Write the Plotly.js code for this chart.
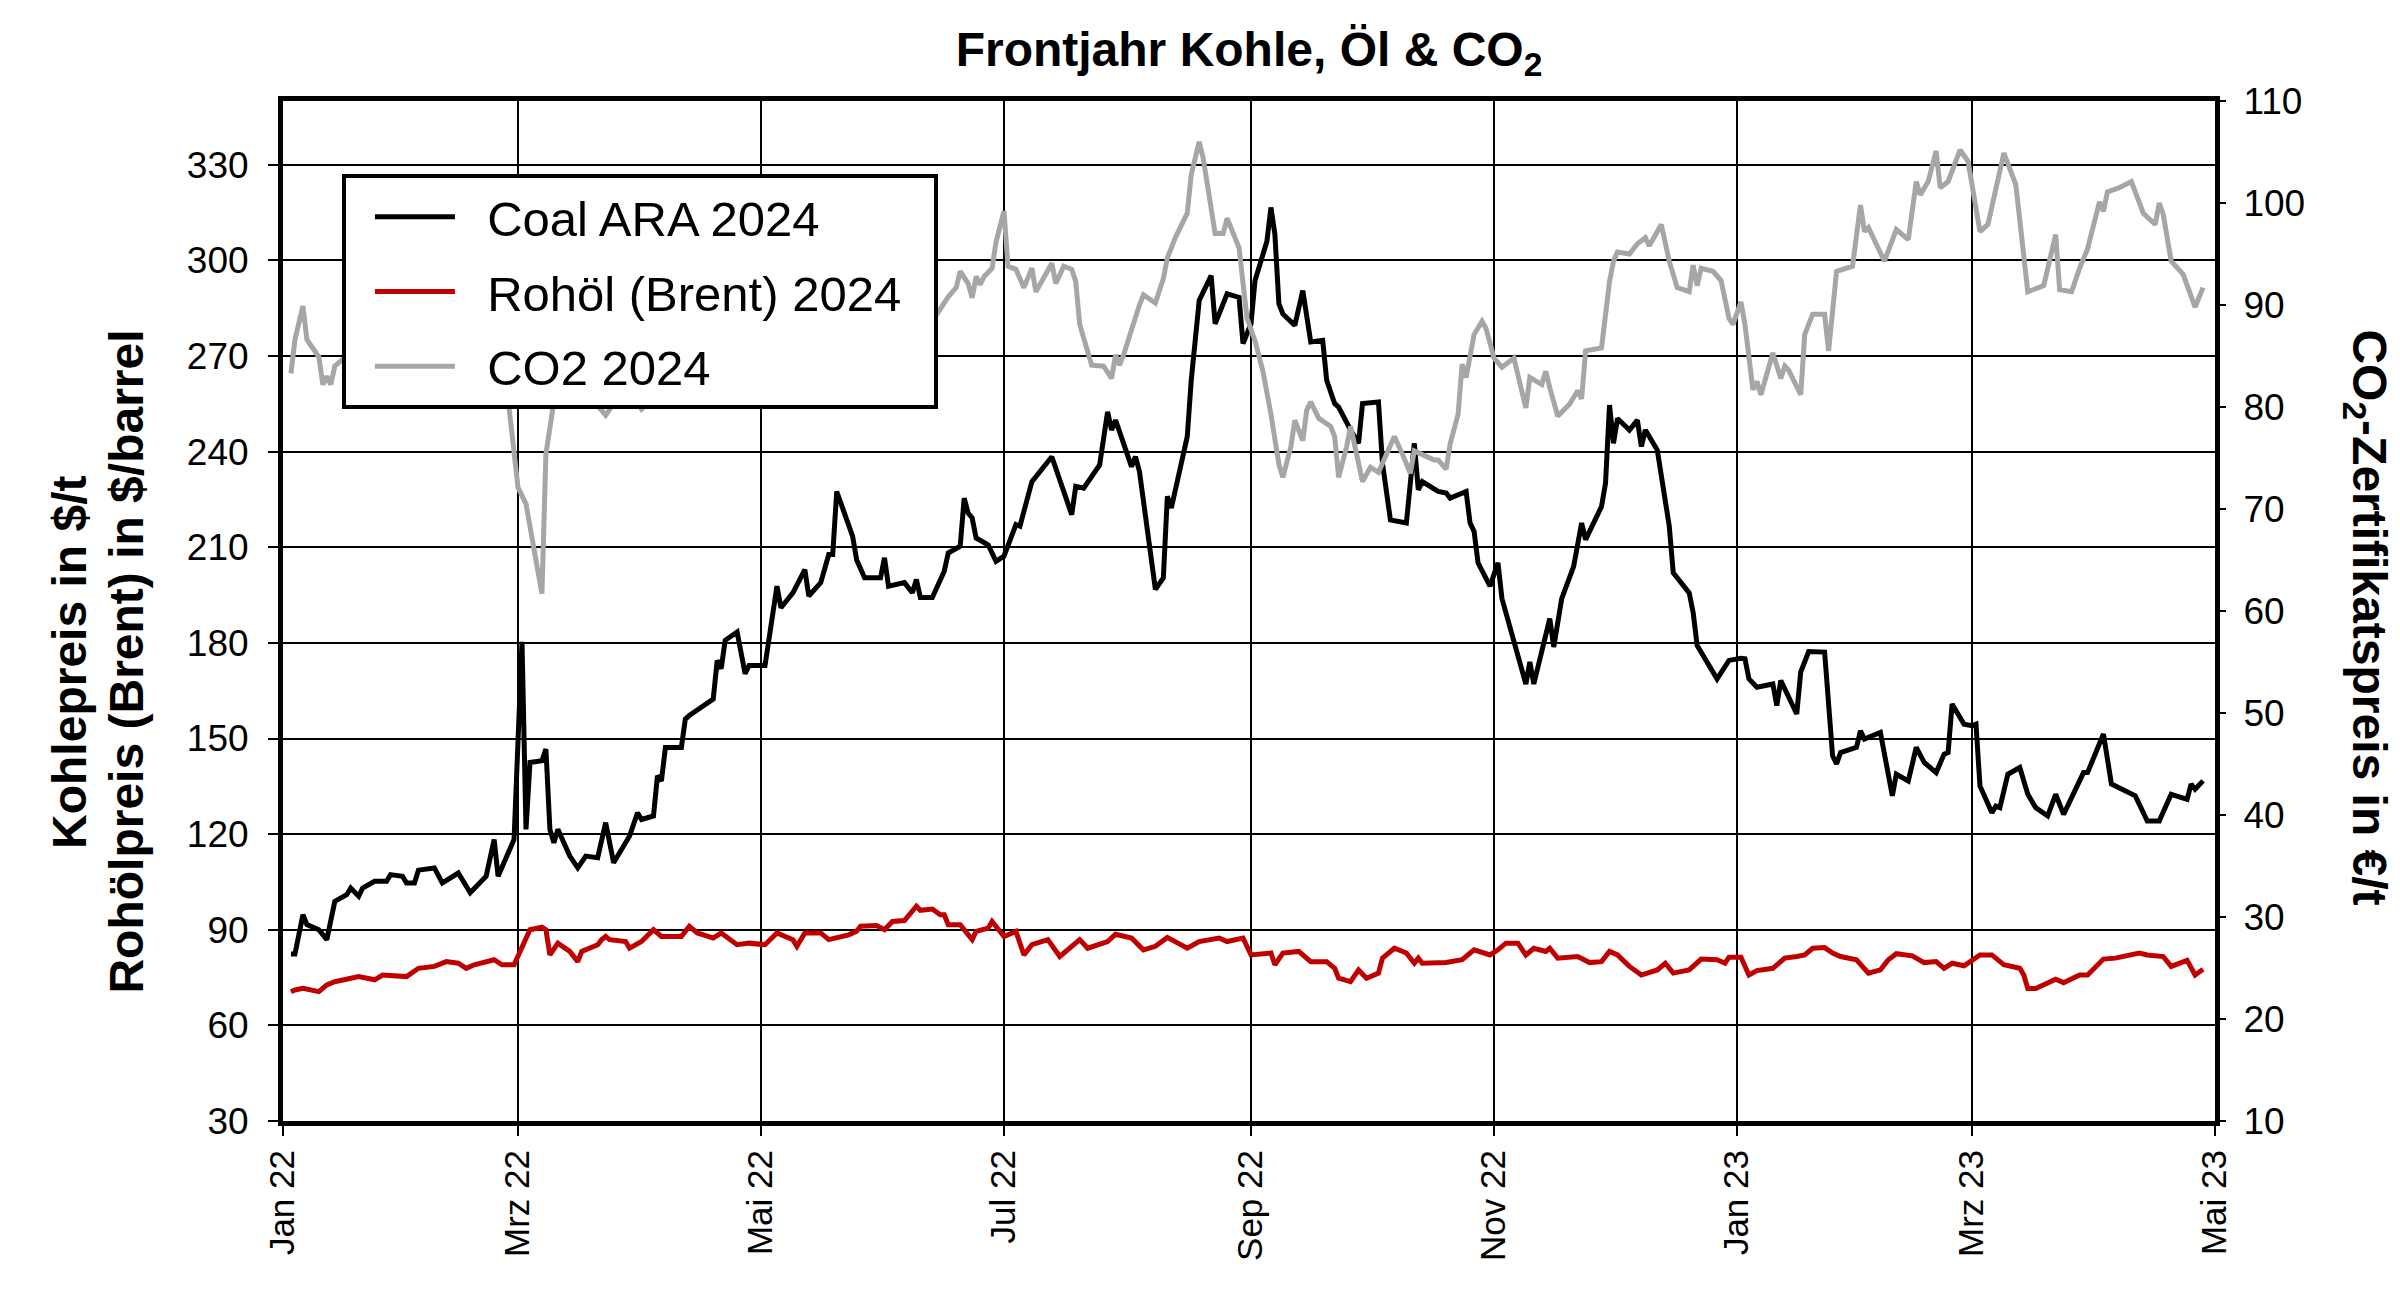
<!DOCTYPE html>
<html>
<head>
<meta charset="utf-8">
<script src="https://cdn.plot.ly/plotly-3.0.1.min.js"></script>
<style>
  body { margin: 0; background: #fff; }
</style>
</head>
<body>
<div id="chart"></div>
<script>
// Frontjahr 2024 prices
const coalDates = [
  '2022-01-03', '2022-01-04', '2022-01-06', '2022-01-07', '2022-01-10', '2022-01-12', '2022-01-14', '2022-01-17',
  '2022-01-18', '2022-01-20', '2022-01-21', '2022-01-24', '2022-01-27', '2022-01-28', '2022-01-31', '2022-02-01',
  '2022-02-03', '2022-02-04', '2022-02-08', '2022-02-10', '2022-02-14', '2022-02-17', '2022-02-21', '2022-02-22',
  '2022-02-23', '2022-02-24', '2022-02-28', '2022-03-02', '2022-03-03', '2022-03-04', '2022-03-07', '2022-03-08',
  '2022-03-09', '2022-03-10', '2022-03-11', '2022-03-14', '2022-03-16', '2022-03-18', '2022-03-21', '2022-03-23',
  '2022-03-25', '2022-03-29', '2022-03-31', '2022-04-01', '2022-04-04', '2022-04-05', '2022-04-06', '2022-04-07',
  '2022-04-11', '2022-04-12', '2022-04-13', '2022-04-19', '2022-04-20', '2022-04-21', '2022-04-22', '2022-04-25',
  '2022-04-27', '2022-04-28', '2022-05-02', '2022-05-05', '2022-05-06', '2022-05-09', '2022-05-12', '2022-05-13',
  '2022-05-16', '2022-05-18', '2022-05-19', '2022-05-20', '2022-05-24', '2022-05-25', '2022-05-27', '2022-05-31',
  '2022-06-01', '2022-06-02', '2022-06-06', '2022-06-08', '2022-06-09', '2022-06-10', '2022-06-13', '2022-06-16',
  '2022-06-17', '2022-06-20', '2022-06-21', '2022-06-22', '2022-06-23', '2022-06-24', '2022-06-27', '2022-06-29',
  '2022-07-01', '2022-07-04', '2022-07-05', '2022-07-08', '2022-07-13', '2022-07-18', '2022-07-19', '2022-07-21',
  '2022-07-25', '2022-07-27', '2022-07-28', '2022-07-29', '2022-08-01', '2022-08-02', '2022-08-03', '2022-08-04',
  '2022-08-08', '2022-08-10', '2022-08-11', '2022-08-12', '2022-08-16', '2022-08-17', '2022-08-19', '2022-08-22',
  '2022-08-23', '2022-08-25', '2022-08-26', '2022-08-29', '2022-08-30', '2022-09-01', '2022-09-02', '2022-09-05',
  '2022-09-06', '2022-09-07', '2022-09-08', '2022-09-09', '2022-09-12', '2022-09-14', '2022-09-16', '2022-09-19',
  '2022-09-20', '2022-09-22', '2022-09-23', '2022-09-26', '2022-09-28', '2022-09-29', '2022-10-03', '2022-10-04',
  '2022-10-06', '2022-10-10', '2022-10-12', '2022-10-13', '2022-10-14', '2022-10-18', '2022-10-20', '2022-10-21',
  '2022-10-25', '2022-10-26', '2022-10-27', '2022-10-28', '2022-10-31', '2022-11-02', '2022-11-03', '2022-11-09',
  '2022-11-10', '2022-11-11', '2022-11-15', '2022-11-16', '2022-11-17', '2022-11-18', '2022-11-21', '2022-11-23',
  '2022-11-24', '2022-11-28', '2022-11-29', '2022-11-30', '2022-12-01', '2022-12-02', '2022-12-05', '2022-12-07',
  '2022-12-08', '2022-12-09', '2022-12-12', '2022-12-14', '2022-12-15', '2022-12-16', '2022-12-20', '2022-12-21',
  '2022-12-22', '2022-12-27', '2022-12-30', '2023-01-02', '2023-01-03', '2023-01-04', '2023-01-06', '2023-01-10',
  '2023-01-11', '2023-01-12', '2023-01-16', '2023-01-17', '2023-01-19', '2023-01-23', '2023-01-25', '2023-01-26',
  '2023-01-27', '2023-01-31', '2023-02-01', '2023-02-02', '2023-02-06', '2023-02-09', '2023-02-10', '2023-02-13',
  '2023-02-15', '2023-02-17', '2023-02-20', '2023-02-22', '2023-02-23', '2023-02-24', '2023-02-27', '2023-03-01',
  '2023-03-02', '2023-03-03', '2023-03-06', '2023-03-07', '2023-03-08', '2023-03-10', '2023-03-13', '2023-03-15',
  '2023-03-17', '2023-03-20', '2023-03-22', '2023-03-24', '2023-03-28', '2023-03-29', '2023-03-30', '2023-04-03',
  '2023-04-05', '2023-04-11', '2023-04-14', '2023-04-17', '2023-04-20', '2023-04-24', '2023-04-25', '2023-04-26',
  '2023-04-28',
];
const coalPrices = [
  82.4, 82.4, 94.7, 91.6, 90.0, 86.9, 98.9, 101.0,
  103.1, 100.5, 103.1, 105.2, 105.2, 107.3, 106.8, 104.7,
  104.7, 108.7, 109.4, 104.7, 107.8, 101.6, 106.8, 112.0,
  118.3, 106.8, 118.3, 180.3, 121.5, 142.5, 143.0, 146.7,
  121.5, 117.3, 121.5, 113.1, 109.4, 113.1, 112.6, 123.6,
  111.0, 119.4, 126.7, 124.6, 125.7, 138.3, 136.7, 147.2,
  147.2, 156.1, 157.2, 162.4, 174.5, 171.9, 180.8, 183.4,
  170.3, 172.9, 172.9, 197.8, 191.0, 195.7, 203.0, 194.7,
  198.9, 207.7, 207.7, 227.5, 213.4, 206.1, 200.4, 200.4,
  206.7, 197.8, 198.9, 195.7, 199.9, 194.2, 194.2, 202.5,
  208.2, 210.3, 225.4, 220.7, 219.2, 212.9, 210.8, 205.6,
  207.2, 217.1, 216.6, 230.6, 238.4, 220.2, 229.1, 228.5,
  235.8, 252.5, 246.8, 249.9, 239.5, 235.3, 238.4, 233.8,
  196.8, 200.4, 226.0, 222.3, 244.7, 262.4, 287.4, 295.2,
  280.1, 285.8, 289.5, 288.4, 273.9, 280.1, 293.6, 306.0,
  316.6, 308.2, 286.4, 283.2, 279.6, 290.5, 274.4, 274.9,
  262.4, 255.1, 254.0, 246.8, 242.6, 255.1, 255.6, 236.4,
  218.6, 217.6, 242.6, 228.0, 230.6, 227.5, 227.0, 225.4,
  227.5, 217.6, 215.0, 205.1, 197.8, 205.1, 193.9, 167.1,
  174.0, 167.1, 187.6, 178.7, 185.5, 193.9, 204.0, 217.6,
  212.4, 222.8, 230.1, 254.6, 242.6, 250.4, 246.8, 249.9,
  241.6, 246.8, 240.5, 224.9, 216.6, 202.0, 195.7, 189.5,
  179.2, 168.7, 174.5, 175.2, 175.0, 168.7, 166.1, 167.1,
  160.3, 168.2, 157.7, 170.8, 177.3, 177.1, 144.6, 142.0,
  145.6, 147.2, 152.4, 149.8, 151.9, 132.0, 138.8, 136.7,
  147.2, 142.5, 139.3, 145.1, 145.6, 160.8, 154.5, 154.0,
  154.5, 135.1, 126.7, 128.8, 128.3, 138.8, 140.9, 132.5,
  128.3, 125.7, 132.5, 126.2, 137.2, 139.3, 139.3, 151.4,
  135.7, 132.0, 124.1, 124.1, 132.5, 130.9, 135.7, 134.1,
  136.7,
];

const oilDates = [
  '2022-01-03', '2022-01-04', '2022-01-06', '2022-01-07', '2022-01-10', '2022-01-12', '2022-01-14', '2022-01-20',
  '2022-01-24', '2022-01-26', '2022-02-01', '2022-02-04', '2022-02-08', '2022-02-11', '2022-02-14', '2022-02-16',
  '2022-02-18', '2022-02-23', '2022-02-25', '2022-02-28', '2022-03-02', '2022-03-04', '2022-03-07', '2022-03-08',
  '2022-03-09', '2022-03-11', '2022-03-14', '2022-03-16', '2022-03-17', '2022-03-21', '2022-03-22', '2022-03-23',
  '2022-03-24', '2022-03-28', '2022-03-29', '2022-04-01', '2022-04-04', '2022-04-06', '2022-04-11', '2022-04-13',
  '2022-04-15', '2022-04-19', '2022-04-21', '2022-04-25', '2022-04-28', '2022-05-02', '2022-05-05', '2022-05-09',
  '2022-05-10', '2022-05-12', '2022-05-16', '2022-05-18', '2022-05-23', '2022-05-25', '2022-05-26', '2022-05-30',
  '2022-06-01', '2022-06-03', '2022-06-06', '2022-06-09', '2022-06-10', '2022-06-13', '2022-06-15', '2022-06-16',
  '2022-06-17', '2022-06-20', '2022-06-23', '2022-06-24', '2022-06-27', '2022-06-28', '2022-07-01', '2022-07-04',
  '2022-07-06', '2022-07-08', '2022-07-12', '2022-07-15', '2022-07-20', '2022-07-22', '2022-07-27', '2022-07-29',
  '2022-08-02', '2022-08-05', '2022-08-08', '2022-08-11', '2022-08-16', '2022-08-19', '2022-08-24', '2022-08-26',
  '2022-08-30', '2022-09-01', '2022-09-06', '2022-09-07', '2022-09-09', '2022-09-13', '2022-09-16', '2022-09-20',
  '2022-09-22', '2022-09-23', '2022-09-26', '2022-09-28', '2022-09-30', '2022-10-03', '2022-10-04', '2022-10-07',
  '2022-10-10', '2022-10-12', '2022-10-13', '2022-10-14', '2022-10-20', '2022-10-24', '2022-10-27', '2022-10-31',
  '2022-11-02', '2022-11-04', '2022-11-07', '2022-11-09', '2022-11-11', '2022-11-14', '2022-11-15', '2022-11-17',
  '2022-11-22', '2022-11-25', '2022-11-28', '2022-11-30', '2022-12-02', '2022-12-05', '2022-12-08', '2022-12-12',
  '2022-12-14', '2022-12-16', '2022-12-20', '2022-12-23', '2022-12-27', '2022-12-29', '2022-12-30', '2023-01-02',
  '2023-01-04', '2023-01-06', '2023-01-10', '2023-01-13', '2023-01-16', '2023-01-18', '2023-01-20', '2023-01-23',
  '2023-01-25', '2023-01-27', '2023-01-31', '2023-02-03', '2023-02-06', '2023-02-08', '2023-02-10', '2023-02-14',
  '2023-02-17', '2023-02-20', '2023-02-22', '2023-02-24', '2023-02-27', '2023-03-03', '2023-03-06', '2023-03-09',
  '2023-03-13', '2023-03-14', '2023-03-15', '2023-03-17', '2023-03-22', '2023-03-24', '2023-03-28', '2023-03-30',
  '2023-04-03', '2023-04-06', '2023-04-12', '2023-04-14', '2023-04-18', '2023-04-20', '2023-04-24', '2023-04-26',
  '2023-04-28',
];
const oilPrices = [
  70.6, 71.1, 71.6, 71.3, 70.6, 72.7, 73.7, 75.3,
  74.3, 75.8, 75.3, 77.9, 78.5, 80.0, 79.5, 77.9,
  79.0, 80.6, 79.0, 79.0, 84.2, 90.0, 90.8, 90.0,
  82.1, 85.8, 83.2, 80.0, 83.2, 85.3, 86.9, 87.9,
  86.9, 86.3, 84.2, 86.3, 90.0, 87.9, 87.9, 91.1,
  89.0, 87.4, 89.0, 85.3, 85.8, 85.3, 89.0, 86.9,
  84.8, 89.0, 89.0, 86.9, 88.4, 89.5, 91.1, 91.3,
  90.0, 92.6, 92.9, 97.4, 96.1, 96.5, 94.7, 94.7,
  91.6, 91.6, 86.9, 89.5, 90.5, 92.6, 87.9, 89.5,
  82.1, 85.3, 86.9, 81.6, 86.9, 84.2, 86.3, 88.6,
  87.4, 83.7, 84.8, 87.6, 84.2, 86.3, 87.4, 86.3,
  87.4, 82.1, 82.7, 79.0, 82.7, 83.2, 80.0, 80.0,
  77.9, 74.8, 73.7, 77.4, 74.8, 76.4, 81.1, 84.2,
  82.7, 79.5, 81.1, 79.5, 79.7, 80.6, 83.7, 82.1,
  83.7, 85.8, 85.8, 82.1, 84.2, 83.2, 84.2, 81.1,
  81.6, 79.7, 80.0, 83.2, 82.1, 78.5, 75.8, 77.4,
  79.5, 76.4, 77.4, 80.8, 80.6, 79.5, 81.4, 81.4,
  75.8, 77.2, 77.9, 81.1, 81.6, 82.1, 84.2, 84.4,
  82.7, 81.6, 80.6, 76.4, 77.4, 80.6, 82.5, 81.8,
  79.7, 80.0, 77.9, 79.5, 78.7, 82.1, 82.1, 79.0,
  77.9, 75.8, 71.6, 71.6, 74.5, 73.4, 75.8, 75.8,
  80.8, 81.1, 82.7, 82.1, 81.6, 78.5, 80.4, 75.8,
  77.6,
];

const co2Dates = [
  '2022-01-03', '2022-01-04', '2022-01-06', '2022-01-07', '2022-01-10', '2022-01-11', '2022-01-12', '2022-01-13',
  '2022-01-14', '2022-01-20', '2022-01-27', '2022-02-03', '2022-02-08', '2022-02-15', '2022-02-22', '2022-02-25',
  '2022-03-01', '2022-03-03', '2022-03-07', '2022-03-08', '2022-03-10', '2022-03-15', '2022-03-18', '2022-03-23',
  '2022-03-28', '2022-04-01', '2022-04-08', '2022-04-20', '2022-05-03', '2022-05-16', '2022-05-27', '2022-06-07',
  '2022-06-14', '2022-06-17', '2022-06-19', '2022-06-20', '2022-06-22', '2022-06-23', '2022-06-24', '2022-06-25',
  '2022-06-26', '2022-06-28', '2022-06-29', '2022-07-01', '2022-07-02', '2022-07-04', '2022-07-06', '2022-07-08',
  '2022-07-09', '2022-07-11', '2022-07-13', '2022-07-14', '2022-07-16', '2022-07-18', '2022-07-19', '2022-07-20',
  '2022-07-23', '2022-07-26', '2022-07-28', '2022-07-29', '2022-07-30', '2022-07-31', '2022-08-01', '2022-08-04',
  '2022-08-05', '2022-08-08', '2022-08-10', '2022-08-11', '2022-08-13', '2022-08-16', '2022-08-17', '2022-08-19',
  '2022-08-20', '2022-08-23', '2022-08-25', '2022-08-26', '2022-08-29', '2022-08-30', '2022-08-31', '2022-09-02',
  '2022-09-04', '2022-09-06', '2022-09-08', '2022-09-09', '2022-09-11', '2022-09-12', '2022-09-14', '2022-09-15',
  '2022-09-16', '2022-09-18', '2022-09-20', '2022-09-21', '2022-09-22', '2022-09-23', '2022-09-25', '2022-09-26',
  '2022-09-29', '2022-10-01', '2022-10-03', '2022-10-05', '2022-10-07', '2022-10-09', '2022-10-11', '2022-10-12',
  '2022-10-15', '2022-10-17', '2022-10-18', '2022-10-20', '2022-10-21', '2022-10-23', '2022-10-24', '2022-10-25',
  '2022-10-27', '2022-10-29', '2022-10-30', '2022-11-01', '2022-11-03', '2022-11-05', '2022-11-06', '2022-11-09',
  '2022-11-10', '2022-11-13', '2022-11-14', '2022-11-15', '2022-11-17', '2022-11-20', '2022-11-22', '2022-11-23',
  '2022-11-24', '2022-11-28', '2022-11-30', '2022-12-01', '2022-12-02', '2022-12-05', '2022-12-07', '2022-12-09',
  '2022-12-10', '2022-12-13', '2022-12-15', '2022-12-17', '2022-12-20', '2022-12-21', '2022-12-22', '2022-12-23',
  '2022-12-26', '2022-12-28', '2022-12-30', '2022-12-31', '2023-01-02', '2023-01-03', '2023-01-05', '2023-01-06',
  '2023-01-07', '2023-01-10', '2023-01-12', '2023-01-13', '2023-01-14', '2023-01-17', '2023-01-18', '2023-01-20',
  '2023-01-23', '2023-01-24', '2023-01-26', '2023-01-30', '2023-02-01', '2023-02-02', '2023-02-03', '2023-02-07',
  '2023-02-10', '2023-02-13', '2023-02-15', '2023-02-16', '2023-02-18', '2023-02-20', '2023-02-21', '2023-02-23',
  '2023-02-26', '2023-02-28', '2023-03-03', '2023-03-05', '2023-03-09', '2023-03-12', '2023-03-15', '2023-03-19',
  '2023-03-20', '2023-03-22', '2023-03-23', '2023-03-26', '2023-03-28', '2023-03-30', '2023-04-02', '2023-04-03',
  '2023-04-04', '2023-04-07', '2023-04-10', '2023-04-13', '2023-04-16', '2023-04-17', '2023-04-18', '2023-04-20',
  '2023-04-23', '2023-04-26', '2023-04-28',
];
const co2Prices = [
  83.3, 86.6, 89.9, 86.6, 84.9, 82.2, 83.0, 82.2,
  84.0, 86.0, 84.5, 89.0, 94.0, 93.0, 90.0, 86.0,
  72.1, 70.5, 61.7, 75.4, 80.5, 83.0, 81.5, 79.2,
  82.0, 79.8, 82.5, 84.0, 86.0, 88.0, 87.0, 86.5,
  89.0, 90.8, 91.7, 93.3, 92.1, 90.7, 92.8, 92.0,
  92.8, 93.6, 96.2, 99.2, 93.8, 93.5, 91.7, 93.6,
  91.3, 92.6, 94.1, 92.1, 93.8, 93.5, 92.3, 88.1,
  84.1, 84.0, 82.8, 85.1, 84.1, 85.1, 86.4, 90.0,
  91.0, 90.2, 92.6, 94.6, 96.6, 99.0, 102.8, 106.0,
  104.4, 97.0, 97.0, 98.5, 95.6, 92.3, 88.7, 86.5,
  83.5, 79.3, 74.4, 73.1, 76.1, 78.7, 76.7, 79.7,
  80.5, 78.9, 78.4, 78.1, 77.1, 73.1, 76.1, 78.1,
  72.7, 74.1, 73.6, 75.3, 77.1, 75.4, 73.5, 75.7,
  75.2, 74.8, 74.8, 73.9, 76.4, 79.3, 84.2, 82.9,
  87.1, 88.4, 87.7, 84.8, 83.9, 84.5, 84.8, 79.9,
  82.9, 82.2, 83.5, 81.9, 79.1, 80.3, 81.6, 80.8,
  85.5, 85.8, 92.3, 94.3, 95.2, 95.0, 96.0, 96.6,
  95.8, 97.9, 94.3, 91.7, 91.3, 93.9, 91.9, 93.6,
  93.3, 92.4, 88.7, 88.1, 90.3, 88.1, 81.7, 82.5,
  81.2, 85.3, 82.8, 84.0, 83.6, 81.2, 87.1, 89.1,
  89.1, 85.5, 93.3, 93.8, 99.8, 97.2, 97.6, 94.3,
  97.4, 96.4, 102.1, 100.8, 102.1, 105.1, 101.5, 102.1,
  105.2, 104.1, 97.2, 97.9, 104.9, 101.8, 91.3, 91.9,
  93.6, 96.9, 91.5, 91.3, 93.6, 95.5, 100.1, 99.2,
  101.1, 101.5, 102.1, 99.0, 97.9, 100.0, 98.9, 94.3,
  93.0, 89.8, 91.7,
];

// axis ticks
const monthTicks = ['2022-01-01', '2022-03-01', '2022-05-01', '2022-07-01', '2022-09-01', '2022-11-01', '2023-01-01', '2023-03-01', '2023-05-01'];
const monthLabels = ['Jan 22', 'Mrz 22', 'Mai 22', 'Jul 22', 'Sep 22', 'Nov 22', 'Jan 23', 'Mrz 23', 'Mai 23'];
const leftTicks = [30, 60, 90, 120, 150, 180, 210, 240, 270, 300, 330];
const rightTicks = [10, 20, 30, 40, 50, 60, 70, 80, 90, 100, 110];

const FONT = 'Arial, "Liberation Sans", Helvetica, sans-serif';
// non-breaking spaces give the legend entries the same padding as the original box
const PAD = '\u00a0\u00a0';

const traces = [
  {
    // CO2 on the right axis, drawn first so coal sits on top
    type: 'scatter',
    mode: 'lines',
    name: PAD + 'CO2 2024' + PAD,
    x: co2Dates,
    y: co2Prices,
    yaxis: 'y2',
    legendrank: 3,
    legendgroup: 'co2',
    line: { color: '#a6a6a6', width: 5 },
  },
  {
    type: 'scatter',
    mode: 'lines',
    name: PAD + 'Rohöl (Brent) 2024' + PAD,
    x: oilDates,
    y: oilPrices,
    legendrank: 2,
    legendgroup: 'oil',
    line: { color: '#c00000', width: 5 },
  },
  {
    type: 'scatter',
    mode: 'lines',
    name: PAD + 'Coal ARA 2024' + PAD,
    x: coalDates,
    y: coalPrices,
    legendrank: 1,
    legendgroup: 'coal',
    line: { color: '#000000', width: 5 },
  },
];

const layout = {
  width: 2400,
  height: 1303,
  paper_bgcolor: '#ffffff',
  plot_bgcolor: '#ffffff',
  margin: { l: 283, r: 185, t: 101, b: 182 },
  font: { family: FONT, color: '#000', size: 35 },
  title: {
    text: '<b>Frontjahr Kohle, Öl &amp; CO<sub>2</sub></b>',
    font: { family: FONT, size: 48, color: '#000' },
    xref: 'paper',
    x: 0.5,
    yref: 'container',
    y: 0.962,
    yanchor: 'middle',
  },
  showlegend: true,
  legend: {
    x: 0.0305,
    y: 0.928,
    xanchor: 'left',
    yanchor: 'top',
    bgcolor: '#ffffff',
    bordercolor: '#000000',
    borderwidth: 4,
    font: { family: FONT, size: 49, color: '#000' },
    tracegroupgap: 8,
    itemwidth: 80,
    indentation: 24,
  },
  xaxis: {
    type: 'date',
    range: ['2022-01-01', '2023-05-01'],
    tickmode: 'array',
    tickvals: monthTicks,
    ticktext: monthLabels,
    tickangle: -90,
    ticks: 'outside',
    ticklen: 10,
    tickwidth: 2,
    tickcolor: '#000',
    tickfont: { family: FONT, size: 35 },
    showgrid: true,
    gridcolor: '#000',
    gridwidth: 2,
    showline: true,
    linecolor: '#000',
    linewidth: 5,
    mirror: true,
    zeroline: false,
  },
  yaxis: {
    range: [30, 350],
    tickmode: 'array',
    tickvals: leftTicks,
    ticks: 'outside',
    ticklen: 10,
    tickwidth: 2,
    tickcolor: '#000',
    tickfont: { family: FONT, size: 37 },
    ticklabelstandoff: 12,
    showgrid: true,
    gridcolor: '#000',
    gridwidth: 2,
    showline: true,
    linecolor: '#000',
    linewidth: 5,
    mirror: true,
    zeroline: false,
  },
  yaxis2: {
    overlaying: 'y',
    side: 'right',
    range: [10, 110],
    tickmode: 'array',
    tickvals: rightTicks,
    ticks: 'outside',
    ticklen: 10,
    tickwidth: 2,
    tickcolor: '#000',
    tickfont: { family: FONT, size: 37 },
    ticklabelstandoff: 10,
    showgrid: false,
    showline: false,
    zeroline: false,
  },
  annotations: [
    {
      // left axis title, first line
      xref: 'paper',
      yref: 'paper',
      x: -0.1108,
      y: 0.45,
      xanchor: 'center',
      yanchor: 'middle',
      textangle: -90,
      showarrow: false,
      text: '<b>Kohlepreis in $/t</b>',
      font: { family: FONT, size: 48, color: '#000' },
    },
    {
      // left axis title, second line
      xref: 'paper',
      yref: 'paper',
      x: -0.0815,
      y: 0.45,
      xanchor: 'center',
      yanchor: 'middle',
      textangle: -90,
      showarrow: false,
      text: '<b>Rohölpreis (Brent) in $/barrel</b>',
      font: { family: FONT, size: 48, color: '#000' },
    },
    {
      // right axis title reads top to bottom
      xref: 'paper',
      yref: 'paper',
      x: 1.078,
      y: 0.494,
      xanchor: 'center',
      yanchor: 'middle',
      textangle: 90,
      showarrow: false,
      text: '<b>CO<sub>2</sub>-Zertifikatspreis in €/t</b>',
      font: { family: FONT, size: 48, color: '#000' },
    },
  ],
};

Plotly.newPlot('chart', traces, layout, { displayModeBar: false, staticPlot: true });
</script>
</body>
</html>
